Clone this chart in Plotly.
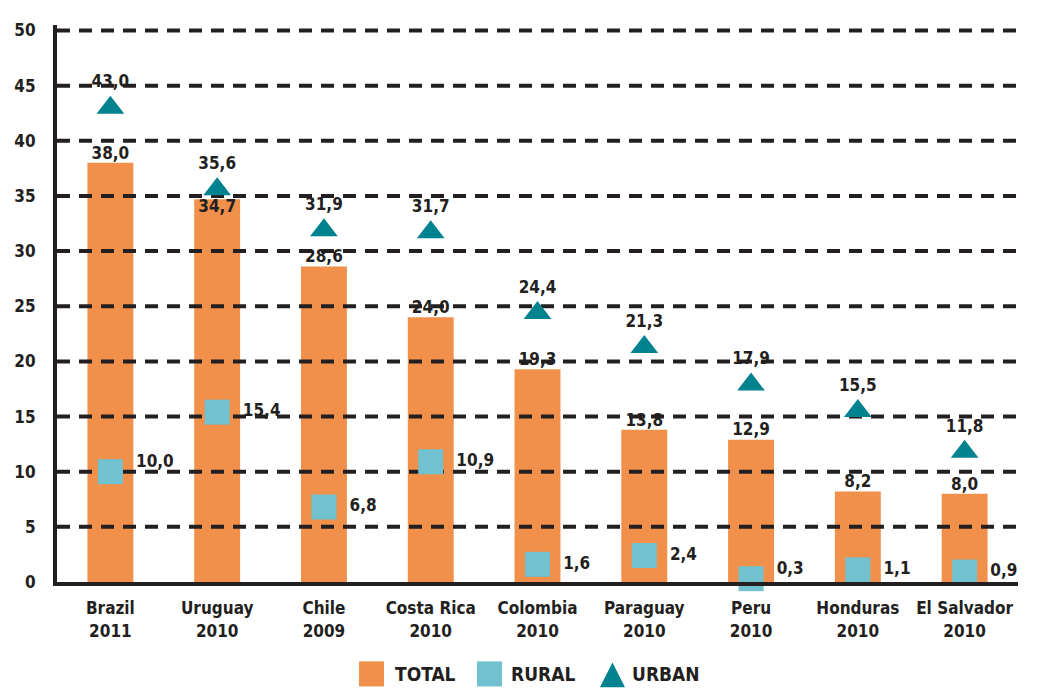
import plotly.graph_objects as go

countries = ["Brazil", "Uruguay", "Chile", "Costa Rica", "Colombia", "Paraguay", "Peru", "Honduras", "El Salvador"]
years = ["2011", "2010", "2009", "2010", "2010", "2010", "2010", "2010", "2010"]
total = [38.0, 34.7, 28.6, 24.0, 19.3, 13.8, 12.9, 8.2, 8.0]
rural = [10.0, 15.4, 6.8, 10.9, 1.6, 2.4, 0.3, 1.1, 0.9]
urban = [43.0, 35.6, 31.9, 31.7, 24.4, 21.3, 17.9, 15.5, 11.8]
y_ticks = [0, 5, 10, 15, 20, 25, 30, 35, 40, 45, 50]
legend_names = ["TOTAL", "RURAL", "URBAN"]

FONT = "DejaVu Sans Condensed, Liberation Sans Narrow, Arial Narrow, sans-serif"
INK = "#231f20"
ORANGE = "#F0904A"
LIGHTBLUE = "#72C1CE"
TEAL = "#00828F"


def fmt(v):
    return f"{v:.1f}".replace(".", ",")


x = list(range(len(countries)))
ticktext = [f"<b>{c}</b><br><b>{y}</b>" for c, y in zip(countries, years)]
LBL = dict(family=FONT, size=17, color=INK, weight="bold")

fig = go.Figure()

# TOTAL bars
fig.add_trace(go.Bar(
    x=x, y=total, name=legend_names[0], width=0.43, showlegend=False,
    marker=dict(color=ORANGE, line=dict(width=0)),
    hoverinfo="skip",
))

# dashed grid lines drawn above the bars
gx, gy = [], []
for t in y_ticks[1:]:
    gx += [-0.5, 8.5, None]
    gy += [t, t, None]
fig.add_trace(go.Scatter(
    x=gx, y=gy, mode="lines", showlegend=False, hoverinfo="skip",
    line=dict(color=INK, width=4, dash="13px,9px"),
))

# RURAL squares
fig.add_trace(go.Scatter(
    x=x, y=rural, mode="markers", name=legend_names[1], cliponaxis=False, showlegend=False,
    marker=dict(symbol="square", size=25, color=LIGHTBLUE, line=dict(width=0)),
    hoverinfo="skip",
))

# URBAN triangles with labels
fig.add_trace(go.Scatter(
    x=x, y=urban, mode="markers+text", name=legend_names[2], cliponaxis=False, showlegend=False,
    marker=dict(symbol="triangle-up", size=24, color=TEAL, line=dict(width=0)),
    text=[fmt(v) for v in urban], textposition="top center",
    textfont=LBL,
    hoverinfo="skip",
))

# TOTAL labels
fig.add_trace(go.Scatter(
    x=x, y=total, mode="text", showlegend=False, cliponaxis=False,
    text=[fmt(v) for v in total],
    textposition=["bottom center" if i == 1 else "top center" for i in x],
    textfont=LBL,
    hoverinfo="skip",
))

# RURAL labels
fig.add_trace(go.Scatter(
    x=[i + 0.24 for i in x], y=rural, mode="text", showlegend=False, cliponaxis=False,
    text=[fmt(v) for v in rural],
    textposition=["top right" if i in (0, 6) else "middle right" for i in x],
    textfont=LBL,
    hoverinfo="skip",
))

# legend (drawn in paper coordinates below the plot)
fig.add_shape(type="rect", xref="paper", yref="paper", x0=0.3143, x1=0.3403,
              y0=-0.1875, y1=-0.1425, fillcolor=ORANGE, line=dict(width=0))
fig.add_shape(type="rect", xref="paper", yref="paper", x0=0.4370, x1=0.4631,
              y0=-0.1875, y1=-0.1425, fillcolor=LIGHTBLUE, line=dict(width=0))
fig.add_shape(type="path", xref="paper", yref="paper",
              path="M 0.5650,-0.1890 L 0.5910,-0.1890 L 0.5780,-0.1445 Z",
              fillcolor=TEAL, line=dict(width=0))
for name, lx in zip(legend_names, [0.3496, 0.4703, 0.5963]):
    fig.add_annotation(text=f"<b>{name}</b>", xref="paper", yref="paper", x=lx, y=-0.166,
                       xanchor="left", yanchor="middle", showarrow=False,
                       font=dict(family=FONT, size=19, color=INK))

fig.update_layout(
    width=1041, height=688,
    margin=dict(l=57, r=23, t=25, b=106, autoexpand=False),
    paper_bgcolor="white", plot_bgcolor="white",
    font=dict(family=FONT, color=INK, size=16),
    showlegend=False,
    xaxis=dict(
        range=[-0.5, 8.5], tickmode="array", tickvals=x, ticktext=ticktext,
        showgrid=False, zeroline=False, showline=True, linecolor=INK, linewidth=4,
        ticks="", tickangle=0, automargin=False, ticklabelstandoff=8,
        tickfont=dict(family=FONT, size=17, color=INK),
    ),
    yaxis=dict(
        range=[0, 50.5], tickmode="array", tickvals=y_ticks,
        ticktext=[f"<b>{t}</b>" for t in y_ticks],
        showgrid=False, zeroline=False, showline=True, linecolor=INK, linewidth=4,
        ticks="", ticklabelstandoff=14, automargin=False,
        tickfont=dict(family=FONT, size=17, color=INK),
    ),
)

fig.write_html("out.html", config={"displayModeBar": False},
               post_script="document.body.style.margin='0';")
